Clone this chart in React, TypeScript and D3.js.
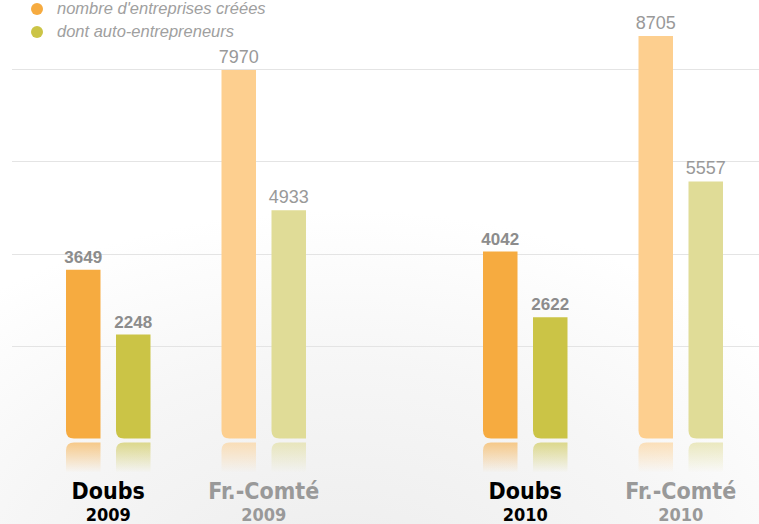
import React from 'react';
import * as d3 from 'd3';

const years = ['2009', '2010'];
const regions = ['Doubs', 'Fr.-Comté'];
const seriesKeys = ['créées', 'auto'];
const legendLabels = ["nombre d'entreprises créées", 'dont auto-entrepreneurs'];
// values[year][region] = [créées, auto]
const values2009 = { 'Doubs': [3649, 2248], 'Fr.-Comté': [7970, 4933] };
const values2010 = { 'Doubs': [4042, 2622], 'Fr.-Comté': [8705, 5557] };
const gridTicks = [2000, 4000, 6000, 8000];

const W = 759;
const H = 524;

const strongColors = ['#f6ab40', '#cbc446'];
const lightColors = ['#fdcf8f', '#e0dc97'];

type Bar = { year: string; region: string; key: string; idx: number; value: number };

const bars: Bar[] = [];
years.forEach((y, yi) => {
  const src = yi === 0 ? values2009 : values2010;
  regions.forEach(r => {
    (src as any)[r].forEach((v: number, i: number) => {
      bars.push({ year: y, region: r, key: seriesKeys[i], idx: i, value: v });
    });
  });
});

const App: React.FC = () => {
  const baseline = 438.5;
  const y = d3.scaleLinear().domain([0, 8000]).range([baseline, baseline - 370]);

  const xYear = d3.scaleBand<string>().domain(years).range([66, 723]).paddingInner(0.4245).paddingOuter(0);
  const xRegion = d3.scaleBand<string>().domain(regions).range([0, xYear.bandwidth()]).paddingInner(0.4566).paddingOuter(0);
  const xSeries = d3.scaleBand<string>().domain(seriesKeys).range([0, xRegion.bandwidth()]).paddingInner(0.31).paddingOuter(0);

  const bw = xSeries.bandwidth();
  const r = 8;
  const reflH = 30;

  const barPath = (x0: number, top: number) => {
    const x1 = x0 + bw;
    const p = d3.path();
    p.moveTo(x0, top);
    p.lineTo(x1, top);
    p.lineTo(x1, baseline);
    p.lineTo(x0 + r, baseline);
    p.quadraticCurveTo(x0, baseline, x0, baseline - r);
    p.closePath();
    return p.toString();
  };
  const reflPath = (x0: number) => {
    const x1 = x0 + bw;
    const t = baseline + 4;
    const p = d3.path();
    p.moveTo(x0, t + r);
    p.quadraticCurveTo(x0, t, x0 + r, t);
    p.lineTo(x1, t);
    p.lineTo(x1, t + reflH);
    p.lineTo(x0, t + reflH);
    p.closePath();
    return p.toString();
  };

  const font = "'Helvetica Neue', Helvetica, Arial, 'Liberation Sans', sans-serif";
  const labelFont = "'DejaVu Sans Condensed', 'DejaVu Sans', sans-serif";

  return (
    <svg width={W} height={H} style={{ position: 'absolute', left: 0, top: 0, background: '#fff' }}>
      <defs>
        <radialGradient id="bg" cx="0.45" cy="1.15" r="0.75">
          <stop offset="0%" stopColor="#ececec" />
          <stop offset="60%" stopColor="#f6f6f6" />
          <stop offset="100%" stopColor="#ffffff" />
        </radialGradient>
        {[...strongColors, ...lightColors].map((c, i) => (
          <linearGradient key={i} id={`refl${i}`} x1="0" y1="0" x2="0" y2="1">
            <stop offset="0%" stopColor={c} stopOpacity={0.6} />
            <stop offset="100%" stopColor={c} stopOpacity={0} />
          </linearGradient>
        ))}
      </defs>
      <rect x={0} y={0} width={W} height={H} fill="url(#bg)" />

      {gridTicks.map(t => (
        <line key={t} x1={12} x2={W} y1={Math.round(y(t)) + 0.5} y2={Math.round(y(t)) + 0.5} stroke="#e4e4e4" strokeWidth={1} />
      ))}

      {bars.map((b, i) => {
        const x0 = xYear(b.year)! + xRegion(b.region)! + xSeries(b.key)!;
        const isDoubs = b.region === 'Doubs';
        const color = isDoubs ? strongColors[b.idx] : lightColors[b.idx];
        const gi = isDoubs ? b.idx : 2 + b.idx;
        const top = y(b.value);
        return (
          <g key={i}>
            <path d={barPath(x0, top)} fill={color} />
            <path d={reflPath(x0)} fill={`url(#refl${gi})`} />
            <text
              x={x0 + bw / 2}
              y={top - 7}
              textAnchor="middle"
              fontFamily={font}
              fontSize={isDoubs ? 17 : 18}
              fontWeight={isDoubs ? 'bold' : 'normal'}
              fill={isDoubs ? '#8c8c8c' : '#999999'}
            >
              {b.value}
            </text>
          </g>
        );
      })}

      {years.map(yr =>
        regions.map(rg => {
          const cx = xYear(yr)! + xRegion(rg)! + xRegion.bandwidth() / 2;
          const isDoubs = rg === 'Doubs';
          const fill = isDoubs ? '#000000' : '#999999';
          return (
            <g key={yr + rg}>
              <text x={cx} y={499} textAnchor="middle" fontFamily={labelFont} fontWeight="bold" fontSize={23} fill={fill}>
                {rg}
              </text>
              <text x={cx} y={521} textAnchor="middle" fontFamily={labelFont} fontWeight="bold" fontSize={18} fill={fill}>
                {yr}
              </text>
            </g>
          );
        })
      )}

      {legendLabels.map((l, i) => (
        <g key={l} transform={`translate(37, ${9 + i * 23})`}>
          <circle cx={0} cy={0} r={6} fill={strongColors[i]} />
          <text x={20} y={5} fontFamily={font} fontStyle="italic" fontSize={16.5} fill="#a0a0a0">
            {l}
          </text>
        </g>
      ))}
    </svg>
  );
};

export default App;
